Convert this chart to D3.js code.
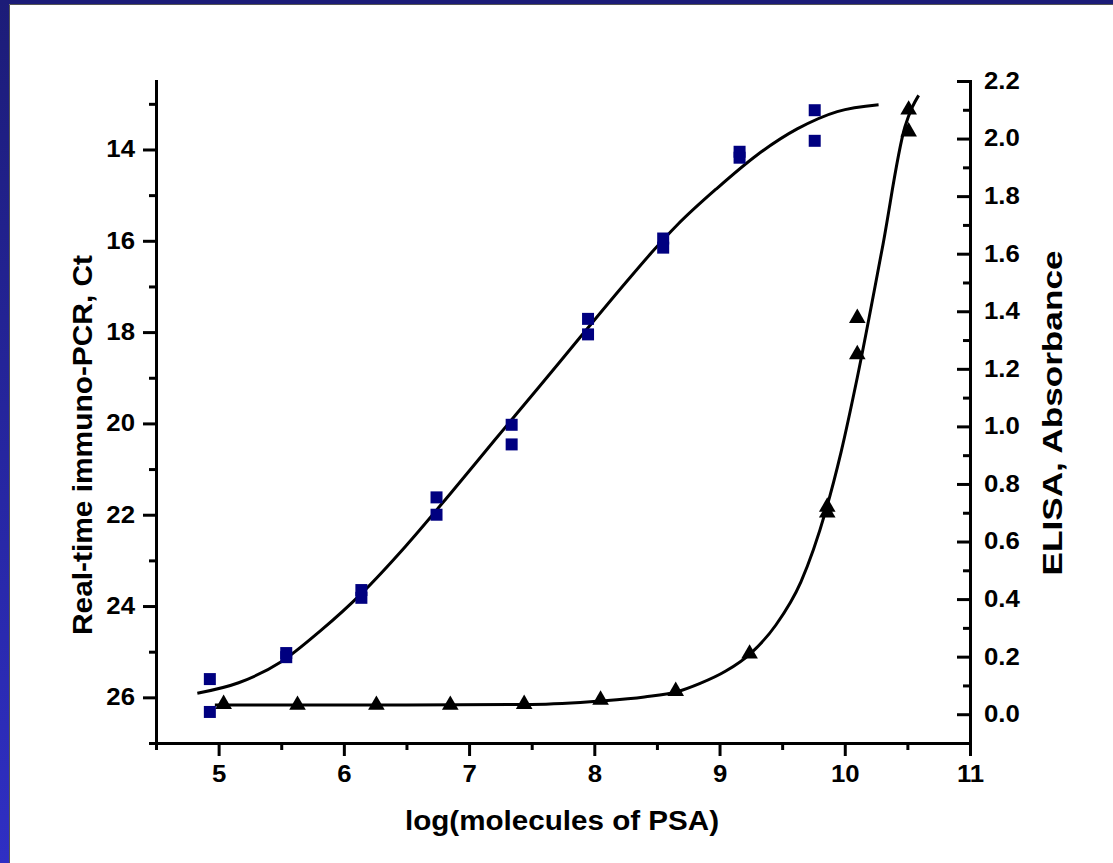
<!DOCTYPE html>
<html>
<head>
<meta charset="utf-8">
<script src="https://cdn.jsdelivr.net/npm/d3@7"></script>
<style>
body { margin: 0; background: #fff; }
svg { display: block; }
text { font-family: Arial, "Liberation Sans", sans-serif; font-weight: bold; fill: #000; }
.axis path, .axis line { stroke: #000; stroke-width: 3; }
.axis text { font-size: 23px; }
</style>
</head>
<body>
<div class="chart-wrapper"></div>
<script>

// real-time immuno-PCR (squares)
const pcrX = [4.93, 4.93, 5.54, 5.54, 6.14, 6.14, 6.74, 6.74, 7.34, 7.34, 7.95, 7.95, 8.55, 8.55, 9.16, 9.16, 9.76, 9.76]
const pcrCt = [25.6, 26.32, 25.03, 25.12, 23.65, 23.82, 21.62, 22.0, 20.03, 20.46, 17.71, 18.05, 15.95, 16.15, 14.05, 14.18, 13.14, 13.81]

const pcrFitX = [4.83, 5.16, 5.5, 5.81, 6.15, 6.49, 6.85, 7.2, 7.55, 7.9, 8.25, 8.47, 8.66, 8.98, 9.3, 9.62, 9.94, 10.27]
const pcrFitCt = [25.91, 25.68, 25.22, 24.55, 23.7, 22.7, 21.54, 20.38, 19.23, 18.07, 16.92, 16.22, 15.66, 14.85, 14.12, 13.55, 13.17, 13.02]

// ELISA (triangles)
const elisaX = [5.04, 5.63, 6.26, 6.85, 7.44, 8.05, 8.65, 9.24, 9.86, 9.86, 10.1, 10.1, 10.51, 10.51]
const elisaAbs = [0.035, 0.032, 0.032, 0.032, 0.035, 0.05, 0.08, 0.21, 0.72, 0.70, 1.376, 1.25, 2.10, 2.024]

const elisaFitX = [4.97, 5.5, 6.5, 7.5, 8.05, 8.4, 8.66, 8.845, 9.05, 9.245, 9.45, 9.65, 9.85, 9.97, 10.1, 10.3, 10.48, 10.54, 10.59]
const elisaFitAbs = [0.032, 0.032, 0.032, 0.034, 0.046, 0.06, 0.078, 0.107, 0.15, 0.21, 0.31, 0.46, 0.71, 0.91, 1.17, 1.62, 2.04, 2.11, 2.15]

// ticks
const xMajor = [5, 6, 7, 8, 9, 10, 11]
const xMinor = [4.5, 5.5, 6.5, 7.5, 8.5, 9.5, 10.5]
const ctMajor = [14, 16, 18, 20, 22, 24, 26]
const ctMinor = [13, 15, 17, 19, 21, 23, 25, 27]
const absMajor = [0, 0.2, 0.4, 0.6, 0.8, 1.0, 1.2, 1.4, 1.6, 1.8, 2.0, 2.2]
const absMinor = [-0.1, 0.1, 0.3, 0.5, 0.7, 0.9, 1.1, 1.3, 1.5, 1.7, 1.9, 2.1]

const width = 1113
const height = 863

const svg = d3.select('.chart-wrapper')
.append('svg')
.attr('width', width)
.attr('height', height)

// slide frame
const grad = svg.append('defs')
.append('linearGradient')
.attr('id', 'side')
.attr('x1', 0).attr('y1', 0)
.attr('x2', 0).attr('y2', 1)

grad.append('stop').attr('offset', '0%').attr('stop-color', '#1c1c78')
grad.append('stop').attr('offset', '100%').attr('stop-color', '#2f2fc4')

svg.append('rect')
.attr('width', width)
.attr('height', height)
.attr('fill', '#fff')

svg.append('rect')
.attr('width', 9)
.attr('height', height)
.attr('fill', 'url(#side)')

svg.append('rect')
.attr('width', width)
.attr('height', 4)
.attr('fill', '#1c1c78')

svg.append('path')
.attr('d', `M9.5,${height}V4.5H${width}`)
.attr('fill', 'none')
.attr('stroke', '#555')
.attr('stroke-width', 1)

const x = d3.scaleLinear()
.domain([4.5, 11])
.range([156, 970])

const yCt = d3.scaleLinear()
.domain([12.5, 27])
.range([81, 743])

const yAbs = d3.scaleLinear()
.domain([-0.1, 2.2])
.range([743, 81])

// axes
svg.append('g')
.attr('class', 'axis')
.attr('transform', 'translate(0,743)')
.call(d3.axisBottom(x).tickValues(xMinor).tickSize(7).tickSizeOuter(0).tickFormat(''))

svg.append('g')
.attr('class', 'axis')
.attr('transform', 'translate(0,743)')
.call(d3.axisBottom(x).tickValues(xMajor).tickSize(13).tickSizeOuter(0).tickPadding(10).tickFormat(d3.format('d')))

svg.append('g')
.attr('class', 'axis')
.attr('transform', 'translate(156,0)')
.call(d3.axisLeft(yCt).tickValues(ctMinor).tickSize(7).tickSizeOuter(0).tickFormat(''))

svg.append('g')
.attr('class', 'axis')
.attr('transform', 'translate(156,0)')
.call(d3.axisLeft(yCt).tickValues(ctMajor).tickSize(13).tickSizeOuter(0).tickPadding(8).tickFormat(d3.format('d')))

svg.append('g')
.attr('class', 'axis')
.attr('transform', 'translate(970,0)')
.call(d3.axisRight(yAbs).tickValues(absMinor).tickSize(-7).tickSizeOuter(0).tickFormat(''))

svg.append('g')
.attr('class', 'axis')
.attr('transform', 'translate(970,0)')
.call(d3.axisRight(yAbs).tickValues(absMajor).tickSize(-13).tickSizeOuter(0).tickPadding(14).tickFormat(d3.format('.1f')))

svg.selectAll('.axis .domain').attr('stroke-linecap', 'square')

// the original slide is a bit stretched sideways
svg.selectAll('.axis text')
.each(function() {
	const w = this.getComputedTextLength()
	if (w > 0) d3.select(this).attr('textLength', w * 1.12).attr('lengthAdjust', 'spacingAndGlyphs')
})

// titles
svg.append('text')
.attr('x', 562)
.attr('y', 830)
.attr('text-anchor', 'middle')
.attr('textLength', 314)
.attr('lengthAdjust', 'spacingAndGlyphs')
.style('font-size', '28px')
.text('log(molecules of PSA)')

svg.append('text')
.attr('transform', 'translate(92,445) rotate(-90)')
.attr('text-anchor', 'middle')
.attr('textLength', 380)
.attr('lengthAdjust', 'spacingAndGlyphs')
.style('font-size', '28px')
.text('Real-time immuno-PCR, Ct')

svg.append('text')
.attr('transform', 'translate(1062,413) rotate(-90)')
.attr('text-anchor', 'middle')
.attr('textLength', 325)
.attr('lengthAdjust', 'spacingAndGlyphs')
.style('font-size', '28px')
.text('ELISA, Absorbance')

// fit curves
const pcrLine = d3.line()
.x(i => x(pcrFitX[i]))
.y(i => yCt(pcrFitCt[i]))
.curve(d3.curveMonotoneX)

svg.append('path')
.attr('d', pcrLine(d3.range(pcrFitX.length)))
.attr('fill', 'none')
.attr('stroke', '#000')
.attr('stroke-width', 3)

const elisaLine = d3.line()
.x(i => x(elisaFitX[i]))
.y(i => yAbs(elisaFitAbs[i]))
.curve(d3.curveMonotoneX)

svg.append('path')
.attr('d', elisaLine(d3.range(elisaFitX.length)))
.attr('fill', 'none')
.attr('stroke', '#000')
.attr('stroke-width', 3)

// points
svg.append('g')
.selectAll('path')
.data(d3.range(pcrX.length))
.enter()
.append('path')
.attr('d', d3.symbol(d3.symbolSquare, 144))
.attr('transform', i => `translate(${x(pcrX[i])},${yCt(pcrCt[i])})`)
.attr('fill', '#000080')

svg.append('g')
.selectAll('path')
.data(d3.range(elisaX.length))
.enter()
.append('path')
.attr('d', d3.symbol(d3.symbolTriangle, 120))
.attr('transform', i => `translate(${x(elisaX[i])},${yAbs(elisaAbs[i])})`)
.attr('fill', '#000')

</script>
</body>
</html>
